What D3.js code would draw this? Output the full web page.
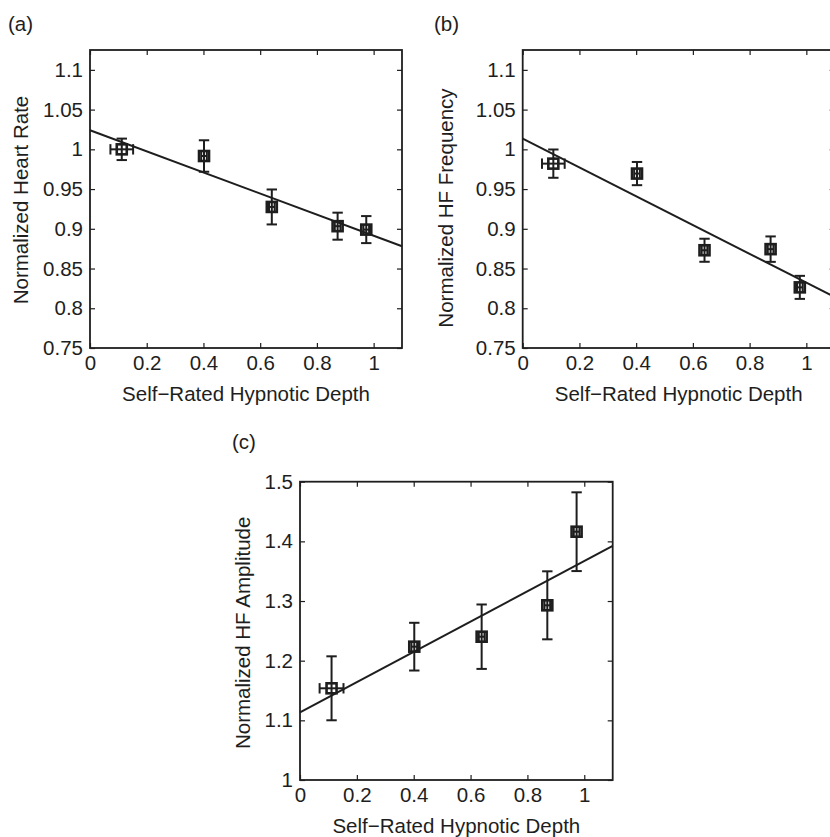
<!DOCTYPE html>
<html>
<head>
<meta charset="utf-8">
<script src="https://cdn.jsdelivr.net/npm/d3@7"></script>
<style>
  html, body { margin: 0; padding: 0; background: #fff; }
  svg { display: block; font-family: "Liberation Sans", Arial, Helvetica, sans-serif; }
</style>
</head>
<body>
<div id="chart"></div>
<script>
// ---- data ----
const xTicks = [0, 0.2, 0.4, 0.6, 0.8, 1];
const yTicksAB = [0.75, 0.8, 0.85, 0.9, 0.95, 1, 1.05, 1.1];
const yTicksC = [1, 1.1, 1.2, 1.3, 1.4, 1.5];

// (a) heart rate
const depthA = [0.112, 0.402, 0.641, 0.873, 0.974];
const depthErrA = [0.04, 0.01, 0.01, 0.01, 0.01];
const heartRate = [1.0, 0.9916, 0.9275, 0.9033, 0.899];
const heartRateErr = [0.0135, 0.0198, 0.022, 0.017, 0.017];
const fitA = {intercept: 1.024, slope: -0.1327};

// (b) HF frequency
const depthB = [0.108, 0.403, 0.641, 0.874, 0.977];
const depthErrB = [0.04, 0.01, 0.01, 0.01, 0.01];
const hfFrequency = [0.982, 0.9695, 0.873, 0.8744, 0.8263];
const hfFrequencyErr = [0.0178, 0.0146, 0.0145, 0.016, 0.0145];
const fitB = {intercept: 1.0134, slope: -0.1812};

// (c) HF amplitude
const depthC = [0.111, 0.402, 0.639, 0.870, 0.973];
const depthErrC = [0.042, 0.01, 0.01, 0.01, 0.01];
const hfAmplitude = [1.1537, 1.2235, 1.2402, 1.2928, 1.4162];
const hfAmplitudeErr = [0.0536, 0.040, 0.054, 0.057, 0.066];
const fitC = {intercept: 1.1134, slope: 0.2535};

const xLabel = "Self\u2212Rated Hypnotic Depth";

(function() {
    const W = 830, H = 837;
    const ink = "#1e1e1e";
    const fontSize = 20.5;
    const fontFamily = '"Liberation Sans", Arial, Helvetica, sans-serif';

    const svg = d3.select("#chart").append("svg")
        .attr("width", W)
        .attr("height", H);

    const panels = [
        {tag: "(a)", tagX: 8, tagY: 31, left: 90, top: 50, width: 312, height: 298,
         yDomain: [0.75, 1.125], yTicks: yTicksAB, yLabel: "Normalized Heart Rate", yLabelOff: 62, yLabelShift: 1,
         x: depthA, xErr: depthErrA, y: heartRate, yErr: heartRateErr, fit: fitA},
        {tag: "(b)", tagX: 434, tagY: 31, left: 522.7, top: 50, width: 312, height: 298,
         yDomain: [0.75, 1.125], yTicks: yTicksAB, yLabel: "Normalized HF Frequency", yLabelOff: 70, yLabelShift: 9,
         x: depthB, xErr: depthErrB, y: hfFrequency, yErr: hfFrequencyErr, fit: fitB},
        {tag: "(c)", tagX: 232, tagY: 449, left: 300, top: 481.7, width: 312.7, height: 298.3,
         yDomain: [1, 1.5], yTicks: yTicksC, yLabel: "Normalized HF Amplitude", yLabelOff: 50.5, yLabelShift: 2,
         x: depthC, xErr: depthErrC, y: hfAmplitude, yErr: hfAmplitudeErr, fit: fitC}
    ];

    panels.forEach(p => {
        const g = svg.append("g").attr("transform", `translate(${p.left},${p.top})`);

        const x = d3.scaleLinear().domain([0, 1.1]).range([0, p.width]);
        const y = d3.scaleLinear().domain(p.yDomain).range([p.height, 0]);

        // panel tag
        svg.append("text")
            .attr("x", p.tagX)
            .attr("y", p.tagY)
            .attr("font-size", fontSize)
            .attr("fill", ink)
            .text(p.tag);

        // axes with inward ticks on all four sides
        const styleAxis = sel => {
            sel.attr("font-size", fontSize).attr("font-family", fontFamily);
            sel.select(".domain").remove();
            sel.selectAll("line").attr("stroke", ink).attr("stroke-width", 1.2);
            sel.selectAll("text").attr("fill", ink);
        };

        g.append("g")
            .attr("transform", `translate(0,${p.height})`)
            .call(d3.axisBottom(x).tickValues(xTicks).tickSize(-5).tickPadding(7).tickFormat(d3.format("~g")))
            .call(styleAxis);
        g.append("g")
            .call(d3.axisTop(x).tickValues(xTicks).tickSize(-5).tickFormat(""))
            .call(styleAxis);
        g.append("g")
            .call(d3.axisLeft(y).tickValues(p.yTicks).tickSize(-5).tickPadding(7).tickFormat(d3.format("~g")))
            .call(styleAxis);
        g.append("g")
            .attr("transform", `translate(${p.width},0)`)
            .call(d3.axisRight(y).tickValues(p.yTicks).tickSize(-5).tickFormat(""))
            .call(styleAxis);

        // box
        g.append("rect")
            .attr("width", p.width)
            .attr("height", p.height)
            .attr("fill", "none")
            .attr("stroke", ink)
            .attr("stroke-width", 1.8);

        // regression line
        const x0 = 0, x1 = 1.1;
        g.append("line")
            .attr("x1", x(x0)).attr("y1", y(p.fit.intercept + p.fit.slope * x0))
            .attr("x2", x(x1)).attr("y2", y(p.fit.intercept + p.fit.slope * x1))
            .attr("stroke", ink)
            .attr("stroke-width", 2);

        const pts = p.x.map((d, i) => ({x: d, xe: p.xErr[i], y: p.y[i], ye: p.yErr[i]}));
        const cap = 5.2;
        const pg = g.selectAll(".pt").data(pts).enter().append("g").attr("class", "pt");

        // vertical error bars
        pg.append("line")
            .attr("x1", d => x(d.x)).attr("x2", d => x(d.x))
            .attr("y1", d => y(d.y - d.ye)).attr("y2", d => y(d.y + d.ye));
        pg.append("line")
            .attr("x1", d => x(d.x) - cap).attr("x2", d => x(d.x) + cap)
            .attr("y1", d => y(d.y + d.ye)).attr("y2", d => y(d.y + d.ye));
        pg.append("line")
            .attr("x1", d => x(d.x) - cap).attr("x2", d => x(d.x) + cap)
            .attr("y1", d => y(d.y - d.ye)).attr("y2", d => y(d.y - d.ye));

        // horizontal error bars
        pg.append("line")
            .attr("x1", d => x(d.x - d.xe)).attr("x2", d => x(d.x + d.xe))
            .attr("y1", d => y(d.y)).attr("y2", d => y(d.y));
        pg.append("line")
            .attr("x1", d => x(d.x - d.xe)).attr("x2", d => x(d.x - d.xe))
            .attr("y1", d => y(d.y) - cap).attr("y2", d => y(d.y) + cap);
        pg.append("line")
            .attr("x1", d => x(d.x + d.xe)).attr("x2", d => x(d.x + d.xe))
            .attr("y1", d => y(d.y) - cap).attr("y2", d => y(d.y) + cap);

        pg.selectAll("line").attr("stroke", ink).attr("stroke-width", 2);

        // square markers
        pg.append("rect")
            .attr("x", d => x(d.x) - 5)
            .attr("y", d => y(d.y) - 5)
            .attr("width", 10)
            .attr("height", 10)
            .attr("fill", "none")
            .attr("stroke", ink)
            .attr("stroke-width", 2.6);

        // axis labels
        g.append("text")
            .attr("x", p.width / 2)
            .attr("y", p.height + 53)
            .attr("text-anchor", "middle")
            .attr("font-size", fontSize)
            .attr("fill", ink)
            .text(xLabel);

        g.append("text")
            .attr("transform", `translate(${-p.yLabelOff},${p.height / 2 + p.yLabelShift}) rotate(-90)`)
            .attr("text-anchor", "middle")
            .attr("font-size", fontSize)
            .attr("fill", ink)
            .text(p.yLabel);
    });
})();
</script>
</body>
</html>
